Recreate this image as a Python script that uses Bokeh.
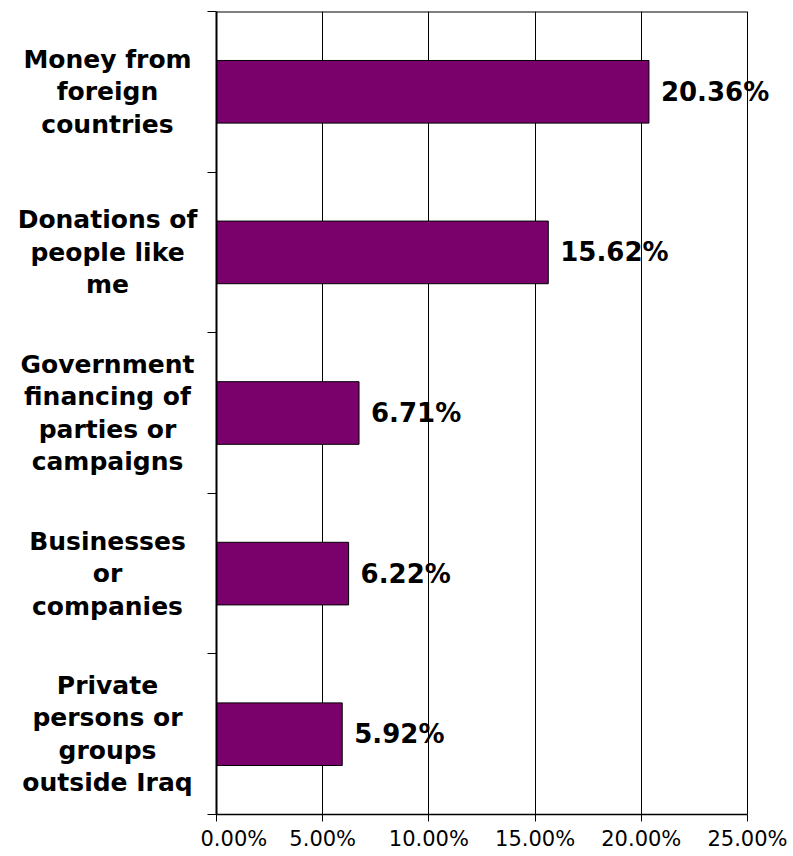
from bokeh.plotting import figure
from bokeh.layouts import row
from bokeh.models import Range1d, FixedTicker, NumeralTickFormatter, LabelSet, ColumnDataSource
from bokeh.core.properties import value
from bokeh.embed import file_html
from bokeh.resources import INLINE

categories = ["Money from\nforeign\ncountries",
              "Donations of\npeople like\nme",
              "Government\nfinancing of\nparties or\ncampaigns",
              "Businesses\nor\ncompanies",
              "Private\npersons or\ngroups\noutside Iraq"]
values = [0.2036, 0.1562, 0.0671, 0.0622, 0.0592]
value_labels = ["20.36%", "15.62%", "6.71%", "6.22%", "5.92%"]
x_ticks = [0.0, 0.05, 0.10, 0.15, 0.20, 0.25]

n = len(categories)
ypos = [n - i - 0.5 for i in range(n)]

FONT = "DejaVu Sans"
yr = Range1d(0, n)

# left panel with category labels
lp = figure(output_backend="svg", toolbar_location=None,
            frame_width=200, frame_height=803,
            min_border_left=0, min_border_right=0, min_border_top=11, min_border_bottom=42,
            x_range=Range1d(0, 200), y_range=yr, x_axis_type=None, y_axis_type=None)
lp.outline_line_color = None
lp.grid.grid_line_color = None
lsrc = ColumnDataSource(dict(x=[107] * n, y=ypos, t=categories))
lp.text(x="x", y="y", text="t", source=lsrc, text_align="center", text_baseline="middle",
        text_font=value(FONT), text_font_style="bold", text_font_size="25px",
        text_line_height=1.12, text_color="black")

# main chart; frame extends a little past 25% so the data labels are not cut
frame_w = 574
x_max = x_ticks[-1] * frame_w / 531
p = figure(output_backend="svg", toolbar_location=None,
           frame_width=frame_w, frame_height=803,
           min_border_left=16, min_border_top=11, min_border_right=3, min_border_bottom=10,
           x_range=Range1d(0, x_max), y_range=yr)
p.background_fill_color = "white"
p.border_fill_color = "white"
p.outline_line_color = None

src = ColumnDataSource(dict(y=ypos, right=values, lab=value_labels))
p.hbar(y="y", left=0, right="right", height=0.39, source=src,
       fill_color="#7A006B", line_color="black", line_width=1)
# top border of the plot area
p.segment(x0=[x_ticks[0]], y0=[n], x1=[x_ticks[-1]], y1=[n], line_color="black", line_width=2)
p.add_layout(LabelSet(x="right", y="y", text="lab", source=src, x_offset=12,
             text_font=value(FONT), text_font_style="bold", text_font_size="26px",
             text_baseline="middle", text_align="left", text_color="black"))

p.xaxis.ticker = FixedTicker(ticks=x_ticks)
p.xaxis.bounds = (x_ticks[0], x_ticks[-1])
p.xaxis.formatter = NumeralTickFormatter(format="0.00%")
p.xaxis.minor_tick_line_color = None
p.xaxis.major_tick_in = 0
p.xaxis.major_tick_out = 7
p.xaxis.axis_line_width = 1.5
p.xaxis.major_label_text_font = FONT
p.xaxis.major_label_text_font_size = "21px"
p.xaxis.major_label_text_color = "black"
p.xaxis.major_label_standoff = 5

p.yaxis.ticker = FixedTicker(ticks=list(range(n + 1)))
p.yaxis.major_label_text_font_size = "0px"
p.yaxis.major_label_text_alpha = 0
p.yaxis.major_label_standoff = 0
p.yaxis.minor_tick_line_color = None
p.yaxis.major_tick_in = 0
p.yaxis.major_tick_out = 9
p.yaxis.axis_line_width = 2

p.xgrid.ticker = FixedTicker(ticks=x_ticks)
p.xgrid.grid_line_color = "black"
p.xgrid.grid_line_width = 1
p.ygrid.grid_line_color = None

layout = row(lp, p, spacing=0)
open("out.html", "w").write(file_html(layout, INLINE))
